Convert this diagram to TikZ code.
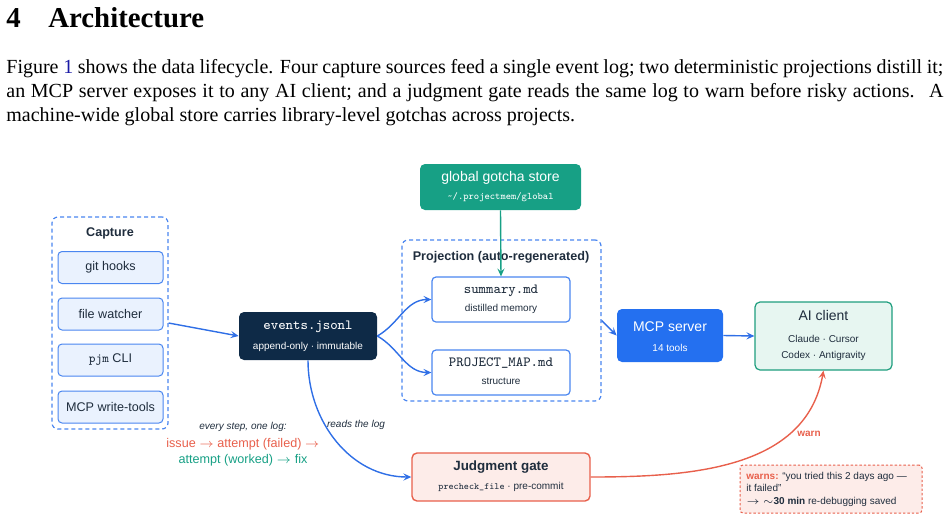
\documentclass[tikz,border=0pt]{standalone}
\usepackage{fontspec}
\setmainfont{Liberation Serif}
\setsansfont{Liberation Sans}
\usetikzlibrary{arrows.meta}
\definecolor{cblue}{HTML}{4A86F0}
\definecolor{ablue}{HTML}{2F6FE6}
\definecolor{capfill}{HTML}{EAF2FE}
\definecolor{navy}{HTML}{0E2A47}
\definecolor{teal}{HTML}{17A085}
\definecolor{mcpblue}{HTML}{2470F0}
\definecolor{aifill}{HTML}{E7F6F1}
\definecolor{aiborder}{HTML}{1E9E7E}
\definecolor{redc}{HTML}{E8604C}
\definecolor{redfill}{HTML}{FDECE9}
\definecolor{dark}{HTML}{1F2D3D}
\definecolor{linkblue}{HTML}{1A1AA6}
\newcommand\myfs[1]{\fontsize{#1}{#1}\selectfont}
\tikzset{
  container/.style={draw=cblue, dash pattern=on 2pt off 1.5pt, rounded corners=3pt, line width=0.6pt, inner sep=0pt},
  capbox/.style={draw=cblue, fill=capfill, rounded corners=2pt, line width=0.5pt, minimum width=52.5pt, minimum height=16pt, inner sep=0pt, font=\sffamily\myfs{6.3}, text=dark},
  whitebox/.style={draw=cblue, fill=white, rounded corners=2pt, line width=0.6pt, minimum width=69pt, minimum height=22.5pt, inner sep=0pt},
  solidbox/.style={rounded corners=2.5pt, inner sep=0pt},
  lbl/.style={inner sep=0pt, font=\sffamily\myfs{5}, text=dark},
  ttl/.style={inner sep=0pt, font=\sffamily\bfseries\myfs{6.3}, text=dark},
  mono/.style={inner sep=0pt, font=\ttfamily\myfs{7}, text=dark},
  arr/.style={-{Stealth[length=4pt,width=3.6pt,inset=1.6pt]}, line width=0.7pt, draw=ablue},
  body/.style={inner sep=0pt, anchor=base west, font=\myfs{10}},
}
\begin{document}
\begin{tikzpicture}[x=0.5pt,y=-0.5pt]
\useasboundingbox (0,0) rectangle (949,521);
% heading and paragraph
\node[body, font=\bfseries\fontsize{14.4}{17}\selectfont] (secnum) at (6,27) {4};
\node[body, font=\bfseries\fontsize{14.4}{17}\selectfont] (sectitle) at (48,27) {Architecture};
\node[body] (p1) at (6,73) {\makebox[468.5pt][s]{Figure {\color{linkblue}1} shows the data lifecycle. Four capture sources feed a single event log; two deterministic projections distill it;}};
\node[body] (p2) at (6,97) {\makebox[468.5pt][s]{an MCP server exposes it to any AI client; and a judgment gate reads the same log to warn before risky actions. \ A}};
\node[body] (p3) at (6,121) {machine-wide global store carries library-level gotchas across projects.};

% capture
\node[container, minimum width=58pt, minimum height=106pt] (capture) at (110,323) {};
\node[ttl] (capt) at (110,233) {Capture};
\node[capbox] (git) at (110.5,267.5) {git hooks};
\node[capbox] (fw) at (110.5,314) {file watcher};
\node[capbox] (pjm) at (110.5,360) {{\ttfamily pjm} CLI};
\node[capbox] (mcpw) at (110.5,407) {MCP write-tools};

% events
\node[solidbox, fill=navy, minimum width=69pt, minimum height=24pt] (events) at (308,336) {};
\node[mono, text=white] (evt) at (308,327) {events.jsonl};
\node[lbl, text=white] (evs) at (308,347) {append-only · immutable};

% global store
\node[solidbox, fill=teal, minimum width=80.5pt, minimum height=23pt] (global) at (500.5,187) {};
\node[inner sep=0pt, font=\sffamily\myfs{7}, text=white] (glt) at (500.5,178) {global gotcha store};
\node[inner sep=0pt, font=\ttfamily\myfs{5}, text=white] (gls) at (500.5,197.5) {\textasciitilde/.projectmem/global};

% projection
\node[container, minimum width=99.5pt, minimum height=80.5pt] (proj) at (501.5,320.5) {};
\node[ttl] (projt) at (501,257) {Projection (auto-regenerated)};
\node[whitebox] (summary) at (501,299.5) {};
\node[mono] (sumt) at (501,290.5) {summary.md};
\node[lbl] (sums) at (501,308.5) {distilled memory};
\node[whitebox] (pmap) at (501,372.5) {};
\node[mono] (pmapt) at (501,363.5) {PROJECT\_MAP.md};
\node[lbl] (pmaps) at (501,381.5) {structure};

% MCP server
\node[solidbox, fill=mcpblue, minimum width=53pt, minimum height=26.5pt] (mcp) at (670,335.5) {};
\node[inner sep=0pt, font=\sffamily\myfs{7}, text=white] (mcpt) at (670,327) {MCP server};
\node[lbl, text=white] (mcps) at (670,348) {14 tools};

% AI client
\node[solidbox, draw=aiborder, fill=aifill, line width=0.6pt, minimum width=68.5pt, minimum height=34pt] (ai) at (823.5,336) {};
\node[inner sep=0pt, font=\sffamily\myfs{7}, text=dark] (ait) at (823.5,315) {AI client};
\node[lbl] (ai1) at (823.5,339) {Claude · Cursor};
\node[lbl] (ai2) at (823.5,356) {Codex · Antigravity};

% Judgment gate
\node[solidbox, draw=redc, fill=redfill, line width=0.7pt, minimum width=89pt, minimum height=24pt] (judge) at (501,477) {};
\node[inner sep=0pt, font=\sffamily\bfseries\myfs{6.7}, text=dark] (jt) at (501,467) {Judgment gate};
\node[lbl] (js) at (501,487) {{\ttfamily\myfs{4.8}precheck\_file} · pre-commit};

% warn note
\node[draw=redc, fill=redfill, dash pattern=on 1.2pt off 1pt, line width=0.5pt, rounded corners=1.5pt, minimum width=91pt, minimum height=24pt, inner sep=0pt] (note) at (831,489) {};
\node[lbl, anchor=base west] (n1) at (746,479) {{\color{redc}\bfseries warns:} “you tried this 2 days ago —};
\node[lbl, anchor=base west] (n2) at (746,491) {it failed”};
\node[lbl, anchor=base west] (n3) at (746,504) {$\rightarrow$ $\sim$\textbf{30 min} re-debugging saved};

% log story
\node[inner sep=0pt, font=\sffamily\itshape\myfs{5}, text=dark] (every) at (243,427) {every step, one log:};
\node[inner sep=0pt, font=\sffamily\myfs{6.3}, text=redc] (story1) at (243,444) {issue $\rightarrow$ attempt (failed) $\rightarrow$};
\node[inner sep=0pt, font=\sffamily\myfs{6.3}, text=teal] (story2) at (243,460.5) {attempt (worked) $\rightarrow$ fix};

% connector labels
\node[inner sep=0pt, font=\sffamily\itshape\myfs{5}, text=dark] (reads) at (356,425) {reads the log};
\node[inner sep=0pt, font=\sffamily\bfseries\myfs{5}, text=redc] (warn) at (809,434) {warn};

% connectors
\draw[arr] (capture.east) -- (events.west);
\draw[arr] (events.east) to[out=30,in=180] (summary.west);
\draw[arr] (events.east) to[out=-30,in=180] (pmap.west);
\draw[arr, draw=teal] (global.south) -- (summary.north);
\draw[arr] (proj.east) -- (mcp.west);
\draw[arr] (mcp.east) -- (ai.west);
\draw[arr] (events.south) to[out=-90,in=180] (judge.west);
\draw[arr, draw=redc] (judge.east) to[out=0,in=-100] (ai.south);
\end{tikzpicture}
\end{document}
